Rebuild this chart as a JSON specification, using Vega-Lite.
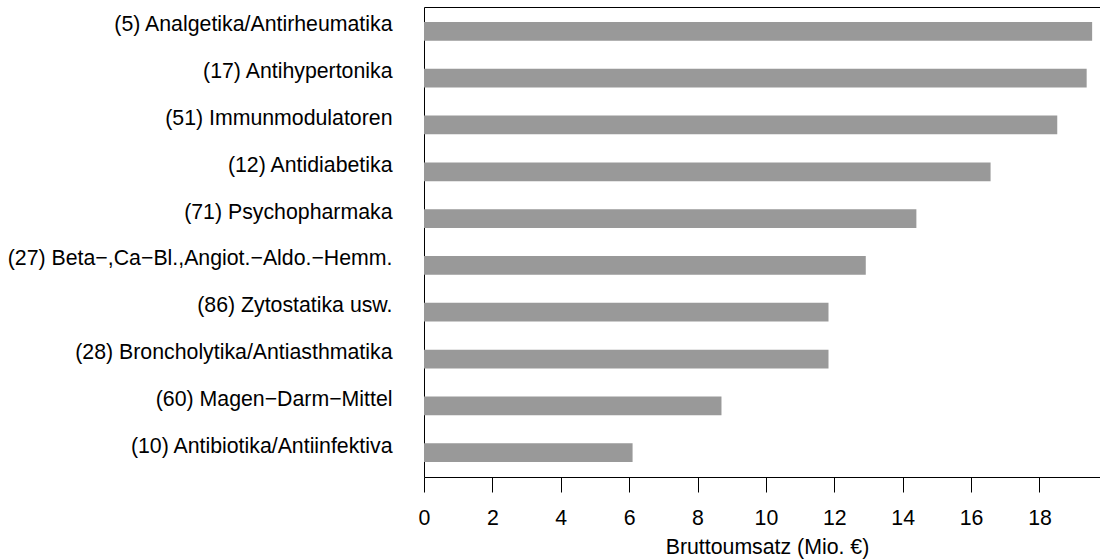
{
  "$schema": "https://vega.github.io/schema/vega-lite/v6.json",
  "autosize": {"type": "none"},
  "width": 676,
  "height": 470,
  "padding": {"left": 424, "top": 7, "right": 0, "bottom": 82},
  "background": "white",
  "config": {
    "view": {"stroke": null},
    "font": "Liberation Sans",
    "axis": {"labelFont": "Liberation Sans", "titleFont": "Liberation Sans", "labelColor": "black", "titleColor": "black", "domainColor": "black", "tickColor": "black", "grid": false, "titleFontWeight": "normal"}
  },
  "data": {"values": [
    {"gruppe": "(5) Analgetika/Antirheumatika", "umsatz": 19.54},
    {"gruppe": "(17) Antihypertonika", "umsatz": 19.38},
    {"gruppe": "(51) Immunmodulatoren", "umsatz": 18.52},
    {"gruppe": "(12) Antidiabetika", "umsatz": 16.57},
    {"gruppe": "(71) Psychopharmaka", "umsatz": 14.40},
    {"gruppe": "(27) Beta\u2212,Ca\u2212Bl.,Angiot.\u2212Aldo.\u2212Hemm.", "umsatz": 12.92},
    {"gruppe": "(86) Zytostatika usw.", "umsatz": 11.83},
    {"gruppe": "(28) Broncholytika/Antiasthmatika", "umsatz": 11.83},
    {"gruppe": "(60) Magen\u2212Darm\u2212Mittel", "umsatz": 8.70},
    {"gruppe": "(10) Antibiotika/Antiinfektiva", "umsatz": 6.10}
  ]},
  "resolve": {"axis": {"x": "independent"}},
  "layer": [
    {
      "mark": {"type": "bar", "color": "#999999"},
      "encoding": {
        "y": {"field": "gruppe", "type": "nominal", "sort": null,
              "scale": {"paddingInner": 0.6, "paddingOuter": 0.32},
              "axis": {"title": null, "ticks": false, "labelPadding": 32, "labelFontSize": 21.3, "labelOffset": -6, "labelLimit": 500, "domainWidth": 1}},
        "x": {"field": "umsatz", "type": "quantitative",
              "scale": {"domain": [0, 19.77], "nice": false, "zero": true},
              "axis": {"orient": "bottom", "values": [0, 2, 4, 6, 8, 10, 12, 14, 16, 18], "title": "Bruttoumsatz (Mio. \u20ac)", "tickSize": 15, "labelPadding": 15, "labelFontSize": 21.3, "titleFontSize": 21.3, "titleX": 343, "titleY": 76, "titleBaseline": "alphabetic", "titleAlign": "center", "titleAnchor": null, "labelFlush": false}}
      }
    },
    {
      "mark": {"type": "bar", "opacity": 0},
      "encoding": {
        "y": {"field": "gruppe", "type": "nominal", "sort": null},
        "x": {"field": "umsatz", "type": "quantitative",
              "axis": {"orient": "top", "labels": false, "ticks": false, "title": null, "domain": true}}
      }
    }
  ]
}
